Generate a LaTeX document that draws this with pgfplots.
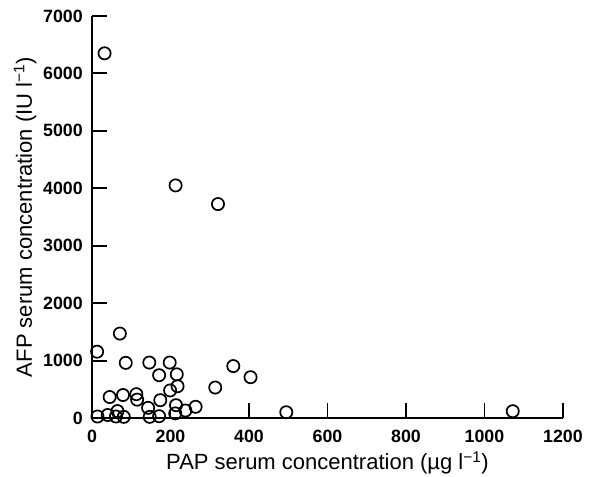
\documentclass[border=0pt]{standalone}
\usepackage{fontspec}
\setmainfont{Liberation Sans}
\usepackage{pgfplots}
\pgfplotsset{compat=1.18}

\begin{document}
\begin{tikzpicture}
\begin{axis}[
name=ax,
scale only axis,
width=471pt,
height=402pt,
xmin=0, xmax=1200,
ymin=0, ymax=7000,
xtick={0,200,...,1200},
ytick={0,1000,...,7000},
axis lines=left,
axis line style={-, line width=1.9pt},
tick align=inside,
major tick length=15pt,
tick style={line width=1.9pt, black},
clip=false,
/pgf/number format/assume math mode=true,
/pgf/number format/1000 sep={},
ticklabel style={font=\fontsize{17.8}{20}\selectfont\bfseries},
xticklabel style={anchor=base, yshift=-24.7pt},
yticklabel style={anchor=east, inner sep=0pt, xshift=-9pt},
label style={font=\fontsize{22}{26}\selectfont},
xlabel={PAP serum concentration (µg l\textsuperscript{−1})},
ylabel={AFP serum concentration (IU l\textsuperscript{−1})},
xlabel style={at={(axis description cs:0.5,0)}, anchor=base, yshift=-52pt},
ylabel style={at={(axis description cs:-0.1274,0.5)}, anchor=base},
]
\addplot[only marks, mark=o, mark size=6.1pt, mark options={line width=1.7pt, black}] coordinates {
(32,6350) (213,4050) (321,3725)
(71,1470) (13,1155) (86,960) (146,965) (198,965)
(171,745) (216,760) (218,553) (199,480)
(360,904) (404,710) (314,530)
(45,365) (79,400) (113,415) (115,320) (174,310)
(143,177) (214,223) (264,195) (238,130) (65,120)
(14,26) (40,52) (61,26) (81,20) (147,20) (171,31) (212,80)
(495,100) (1072,118)
};
\end{axis}
\pgfresetboundingbox
\path ([shift={(-92pt,-59pt)}]ax.south west) rectangle ([shift={(29pt,16pt)}]ax.north east);
\end{tikzpicture}
\end{document}
